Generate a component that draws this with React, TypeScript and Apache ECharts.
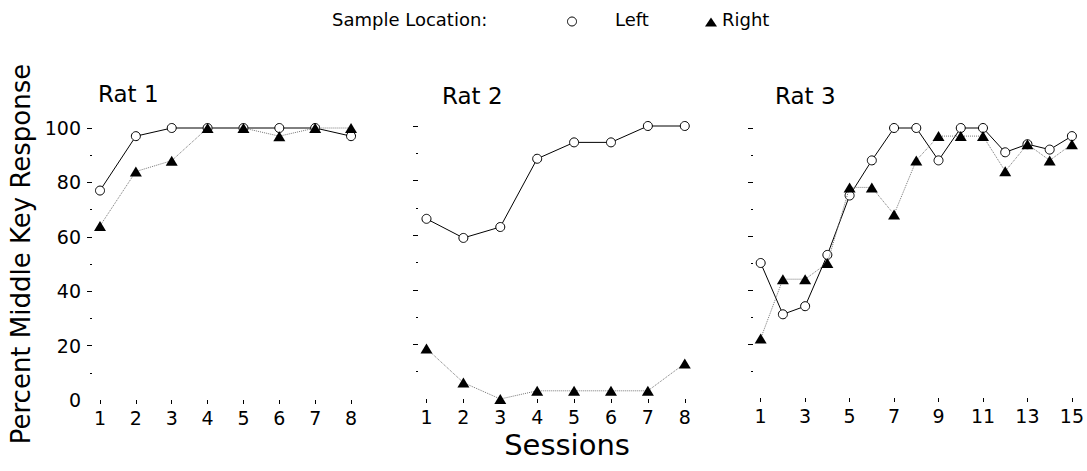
import React, { useEffect, useRef } from "react";
import * as echarts from "echarts";

const sessions8 = [1, 2, 3, 4, 5, 6, 7, 8];
const sessions15 = [1, 2, 3, 4, 5, 6, 7, 8, 9, 10, 11, 12, 13, 14, 15];
const xLabels15 = [1, 3, 5, 7, 9, 11, 13, 15];
const yLabels = [0, 20, 40, 60, 80, 100];
const yMajorTicks = [20, 40, 60, 80, 100];
const yMinorTicks = [10, 30, 50, 70, 90];

const rat1Left = [77, 97, 100, 100, 100, 100, 100, 97];
const rat1Right = [64, 84, 88, 100, 100, 97, 100, 100];
const rat2Left = [66, 59, 63, 88, 94, 94, 100, 100];
const rat2Right = [18.5, 6, 0, 3, 3, 3, 3, 13];
const rat3Left = [50, 31, 34, 53, 75, 88, 100, 100, 88, 100, 100, 91, 94, 92, 97];
const rat3Right = [22, 44, 44, 50, 78, 78, 68, 88, 97, 97, 97, 84, 94, 88, 94];

const FONT = "DejaVu Sans";

export default function App() {
  const ref = useRef<HTMLDivElement>(null);

  useEffect(() => {
    if (!ref.current) return;
    const chart = echarts.init(ref.current, undefined, { renderer: "svg" });

    const panels = [
      { left: 92, top: 128, width: 268, height: 272, min: 0.777, max: 8.25, x: sessions8, xl: sessions8, L: rat1Left, R: rat1Right, labels: true },
      { left: 418, top: 126, width: 276, height: 273, min: 0.77, max: 8.25, x: sessions8, xl: sessions8, L: rat2Left, R: rat2Right, labels: false },
      { left: 753, top: 128, width: 326, height: 270, min: 0.655, max: 15.3, x: sessions15, xl: xLabels15, L: rat3Left, R: rat3Right, labels: false },
    ];

    const grid: any[] = [];
    const xAxis: any[] = [];
    const yAxis: any[] = [];
    const series: any[] = [];

    panels.forEach((p, i) => {
      grid.push({ left: p.left, top: p.top, width: p.width, height: p.height });
      xAxis.push({
        type: "value",
        gridIndex: i,
        min: p.min,
        max: p.max,
        axisLine: { show: false },
        splitLine: { show: false },
        axisTick: { show: true, customValues: p.xl, length: 4, lineStyle: { color: "#000", width: 1 } },
        axisLabel: { show: true, customValues: p.xl, color: "#000", fontSize: 19, fontFamily: FONT, margin: 8 },
      });
      yAxis.push({
        type: "value",
        gridIndex: i,
        position: "left",
        min: 0,
        max: 100,
        axisLine: { show: false },
        splitLine: { show: false },
        axisTick: { show: true, customValues: yMajorTicks, length: 5, lineStyle: { color: "#000", width: 1 } },
        axisLabel: { show: p.labels, customValues: yLabels, color: "#000", fontSize: 19, fontFamily: FONT, margin: 11 },
      });
      yAxis.push({
        type: "value",
        gridIndex: i,
        position: "left",
        offset: 0,
        min: 0,
        max: 100,
        axisLine: { show: false },
        splitLine: { show: false },
        axisTick: { show: true, customValues: yMinorTicks, length: 2, lineStyle: { color: "#000", width: 1 } },
        axisLabel: { show: false },
      });
      series.push({
        type: "line",
        name: "Left",
        xAxisIndex: i,
        yAxisIndex: i * 2,
        clip: false,
        data: p.x.map((s, k) => [s, p.L[k]]),
        symbol: "circle",
        symbolSize: 9,
        lineStyle: { color: "#000", width: 1, type: "solid" },
        itemStyle: { color: "#fff", borderColor: "#000", borderWidth: 1 },
        z: 2,
      });
      series.push({
        type: "line",
        name: "Right",
        xAxisIndex: i,
        yAxisIndex: i * 2,
        clip: false,
        data: p.x.map((s, k) => [s, p.R[k]]),
        symbol: "triangle",
        symbolSize: [12, 10],
        lineStyle: { color: "#777", width: 1, type: "dotted" },
        itemStyle: { color: "#000" },
        z: 3,
      });
    });

    const txt = (text: string, x: number, y: number, size: number, align = "left", rotation = 0) => ({
      type: "text",
      x,
      y,
      rotation,
      style: { text, fontSize: size, fontFamily: FONT, fill: "#000", align, verticalAlign: "middle" },
    });

    chart.setOption({
      animation: false,
      backgroundColor: "#fff",
      grid,
      xAxis,
      yAxis,
      series,
      graphic: [
        txt("Sample Location:", 332, 19, 18),
        { type: "circle", shape: { cx: 572, cy: 21.5, r: 4.5 }, style: { fill: "#fff", stroke: "#000", lineWidth: 1 } },
        txt("Left", 615, 19, 18),
        { type: "polygon", shape: { points: [[705, 26.5], [717, 26.5], [711, 17.5]] }, style: { fill: "#000" } },
        txt("Right", 722, 19, 18),
        txt("Rat 1", 98, 94, 23),
        txt("Rat 2", 442, 96, 23),
        txt("Rat 3", 775, 96, 23),
        txt("Sessions", 567, 445, 29, "center"),
        txt("Percent Middle Key Response", 21, 254, 26, "center", Math.PI / 2),
      ],
    });

    return () => chart.dispose();
  }, []);

  return <div ref={ref} style={{ position: "fixed", left: 0, top: 0, width: 1087, height: 471 }} />;
}
